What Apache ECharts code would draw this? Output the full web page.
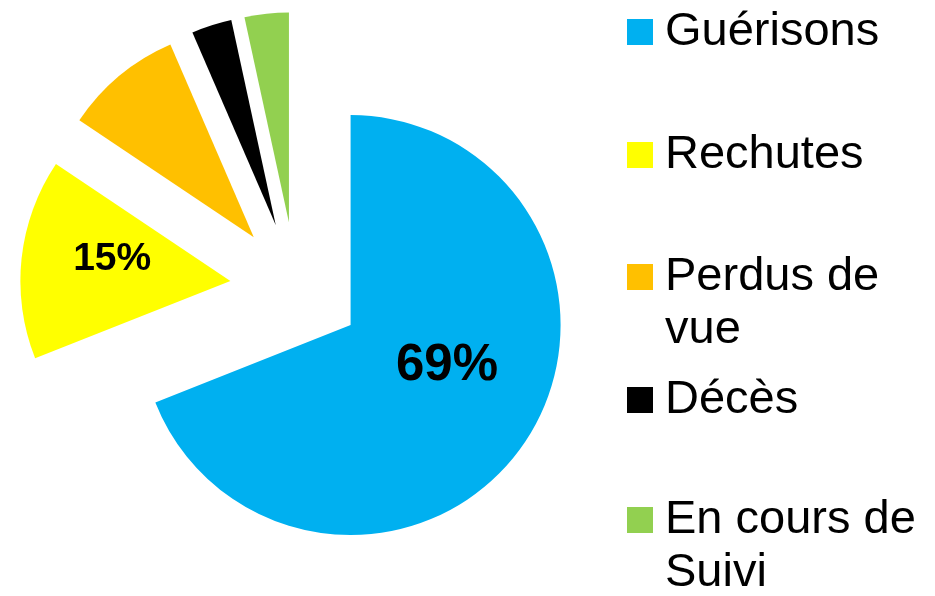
<!DOCTYPE html>
<html>
<head>
<meta charset="utf-8">
<script src="https://cdn.jsdelivr.net/npm/echarts@6/dist/echarts.min.js"></script>
<style>html,body{margin:0;padding:0;background:#fff;}#c{width:935px;height:596px;}</style>
</head>
<body>
<div id="c"></div>
<script>
const categories = ["Guérisons", "Rechutes", "Perdus de vue", "Décès", "En cours de Suivi"];
const values = [69, 15.4, 9.1, 3.1, 3.4];
const sliceLabels = ["69%", "15%", "", "", ""];
const legendText = ["Guérisons", "Rechutes", "\nPerdus de\nvue", "Décès", "\nEn cours de\nSuivi"];
const colors = ["#00B0F0", "#FFFF00", "#FFC000", "#000000", "#92D050"];

const legendTops = [5.5, 128.5, 197.5, 373.5, 440.5];
const labelStyles = [
  { fontSize: 51, lineHeight: 40, pre: ' ', post: '' },
  { fontSize: 39, lineHeight: 20, pre: '', post: '  ' }
];

const chart = echarts.init(document.getElementById('c'), null, { renderer: 'canvas' });

const legends = categories.map((name, i) => ({
  data: [name],
  orient: 'vertical',
  left: 627,
  top: legendTops[i],
  padding: 0,
  itemWidth: 26,
  itemHeight: 26,
  icon: 'rect',
  selectedMode: false,
  formatter: () => legendText[i],
  textStyle: {
    fontFamily: 'Liberation Sans, Arial, sans-serif',
    fontSize: 47,
    lineHeight: 53,
    color: '#000',
    padding: [0, 0, 0, 7]
  }
}));

const data = categories.map((name, i) => {
  const item = {
    name,
    value: values[i],
    selected: true,
    itemStyle: { color: colors[i] },
    label: { show: sliceLabels[i] !== '' }
  };
  if (labelStyles[i]) {
    item.label = { show: true, fontSize: labelStyles[i].fontSize, lineHeight: labelStyles[i].lineHeight };
  }
  return item;
});

chart.setOption({
  animation: false,
  backgroundColor: '#fff',
  legend: legends,
  series: [{
    type: 'pie',
    center: [296, 288],
    radius: [0, 210],
    startAngle: 90,
    clockwise: true,
    selectedMode: 'multiple',
    selectedOffset: 66,
    avoidLabelOverlap: false,
    emphasis: { disabled: true },
    label: {
      show: true,
      position: 'inside',
      formatter: p => {
        const s = labelStyles[p.dataIndex] || { pre: '', post: '' };
        return s.pre + sliceLabels[p.dataIndex] + s.post + '\n ';
      },
      fontFamily: 'Liberation Sans, Arial, sans-serif',
      fontWeight: 'bold',
      color: '#000'
    },
    labelLine: { show: false },
    data
  }]
});
</script>
</body>
</html>
